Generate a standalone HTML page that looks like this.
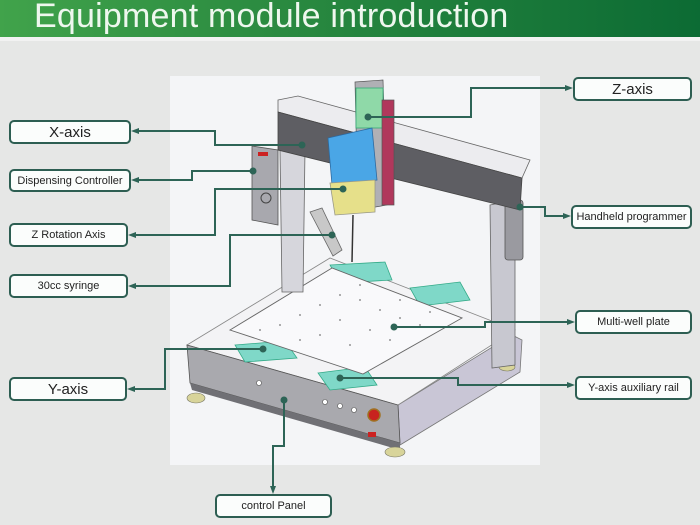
<!DOCTYPE html>
<html><head><meta charset="utf-8"><style>
body{margin:0;width:700px;height:525px;overflow:hidden;background:#e6e7e6;font-family:"Liberation Sans",sans-serif;position:relative}
.hdr{position:absolute;left:0;top:0;width:700px;height:37px;background:linear-gradient(90deg,#41a34b 0%,#2a8a40 40%,#0c6b34 100%)}
.hdr span{position:absolute;left:34px;top:-3px;font-size:34px;color:#eef7ee;letter-spacing:0.2px}
.shadow{position:absolute;left:0;top:37px;width:700px;height:4px;background:#f2f2f2}
.b{position:absolute;border:2px solid #2d5e52;border-radius:5px;background:#fbfdfc;color:#222;text-align:center;box-sizing:border-box;display:flex;align-items:center;justify-content:center;white-space:nowrap}
svg{position:absolute;left:0;top:0}
</style></head><body>
<div class="hdr"><span>Equipment module introduction</span></div>
<div class="shadow"></div>
<svg width="700" height="525">
<rect x="170" y="76" width="370" height="389" fill="#f4f5f7"/>
<polygon points="398,405 512,335 522,340 520,372 400,445" fill="#c9c6d6" stroke="#777" stroke-width="0.8"/>
<polygon points="187,345 330,258 515,330 398,405" fill="#f3f3f5" stroke="#888" stroke-width="0.8"/>
<polygon points="187,345 398,405 400,443 190,383" fill="#a9a9ae" stroke="#555" stroke-width="0.8"/>
<polygon points="190,383 400,443 400,450 192,390" fill="#707075"/>
<circle cx="259" cy="383" r="2.5" fill="#fff" stroke="#555" stroke-width="0.6"/>
<circle cx="325" cy="402" r="2.5" fill="#fff" stroke="#555" stroke-width="0.6"/>
<circle cx="340" cy="406" r="2.5" fill="#fff" stroke="#555" stroke-width="0.6"/>
<circle cx="354" cy="410" r="2.5" fill="#fff" stroke="#555" stroke-width="0.6"/>
<circle cx="374" cy="415" r="6" fill="#c8231f" stroke="#a07020" stroke-width="1.5"/>
<rect x="368" y="432" width="8" height="5" fill="#c22"/>
<ellipse cx="196" cy="398" rx="9" ry="5" fill="#d8d49a" stroke="#776" stroke-width="0.6"/>
<ellipse cx="395" cy="452" rx="10" ry="5" fill="#d8d49a" stroke="#776" stroke-width="0.6"/>
<ellipse cx="507" cy="367" rx="8" ry="4" fill="#d8d49a" stroke="#776" stroke-width="0.6"/>
<polygon points="330,265 385,262 392,280 340,283" fill="#7fd8c8" stroke="#3a8" stroke-width="0.8"/>
<polygon points="410,288 460,282 470,300 420,306" fill="#7fd8c8" stroke="#3a8" stroke-width="0.8"/>
<polygon points="235,345 285,341 297,358 245,362" fill="#7fd8c8" stroke="#3a8" stroke-width="0.8"/>
<polygon points="318,373 365,367 377,385 330,390" fill="#7fd8c8" stroke="#3a8" stroke-width="0.8"/>
<polygon points="230,330 332,268 462,318 363,374" fill="#f9f9fb" stroke="#666" stroke-width="0.9"/>
<g fill="#777">
<circle cx="300" cy="315" r="0.9"/><circle cx="320" cy="305" r="0.9"/><circle cx="340" cy="295" r="0.9"/><circle cx="360" cy="300" r="0.9"/><circle cx="380" cy="310" r="0.9"/><circle cx="400" cy="318" r="0.9"/><circle cx="420" cy="325" r="0.9"/><circle cx="280" cy="325" r="0.9"/><circle cx="320" cy="335" r="0.9"/><circle cx="350" cy="345" r="0.9"/><circle cx="370" cy="330" r="0.9"/><circle cx="390" cy="340" r="0.9"/><circle cx="340" cy="320" r="0.9"/><circle cx="300" cy="340" r="0.9"/><circle cx="360" cy="285" r="0.9"/><circle cx="400" cy="300" r="0.9"/><circle cx="430" cy="312" r="0.9"/><circle cx="260" cy="330" r="0.9"/>
</g>
<polygon points="280,150 305,150 303,292 282,292" fill="#d6d6dc" stroke="#666" stroke-width="0.8"/>
<polygon points="252,146 278,150 278,225 252,220" fill="#a8a8ae" stroke="#555" stroke-width="0.8"/>
<rect x="258" y="152" width="10" height="4" fill="#c22"/>
<circle cx="266" cy="198" r="5" fill="none" stroke="#444"/>
<polygon points="490,205 515,200 515,365 492,368" fill="#c8c8d0" stroke="#666" stroke-width="0.8"/>
<rect x="505" y="200" width="18" height="60" rx="3" fill="#9a9aa0" stroke="#555" stroke-width="0.8"/>
<polygon points="278,100 298,96 530,160 522,178 278,112" fill="#ececef" stroke="#666" stroke-width="0.8"/>
<polygon points="278,112 522,178 520,210 278,150" fill="#5e5e63" stroke="#444" stroke-width="0.8"/>
<polygon points="355,82 383,80 387,205 358,210" fill="#b0b0b5" stroke="#555" stroke-width="0.7"/>
<rect x="356" y="88" width="27" height="40" fill="#8fd9a8" stroke="#3a7" stroke-width="0.8"/>
<rect x="382" y="100" width="12" height="105" fill="#b0385c" stroke="#555" stroke-width="0.7"/>
<polygon points="328,138 372,128 377,180 332,185" fill="#4aa6e6" stroke="#2d6aa0" stroke-width="0.8"/>
<polygon points="330,183 375,180 375,212 335,215" fill="#e6e08a" stroke="#998" stroke-width="0.8"/>
<line x1="353" y1="215" x2="352" y2="262" stroke="#333" stroke-width="1.5"/>
<polygon points="310,212 322,208 342,250 333,256" fill="#c8c8c8" stroke="#666" stroke-width="0.8"/>
<g stroke="#2d6456" stroke-width="2" fill="none">
<polyline points="137,131 215,131 215,145 302,145"/>
<polyline points="137,180 192,180 192,171 253,171"/>
<polyline points="134,235 215,235 215,189 343,189"/>
<polyline points="134,286 230,286 230,235 332,235"/>
<polyline points="567,88 471,88 471,117 368,117"/>
<polyline points="565,216 545,216 545,207 520,207"/>
<polyline points="569,322 485,322 485,327 394,327"/>
<polyline points="569,385 458,385 458,378 340,378"/>
<polyline points="133,389 165,389 165,349 263,349"/>
<polyline points="284,400 284,446 273,446 273,488"/>
</g>
<g fill="#2d6456">
<polygon points="131,131 139,128 139,134"/><polygon points="131,180 139,177 139,183"/>
<polygon points="128,235 136,232 136,238"/><polygon points="128,286 136,283 136,289"/>
<polygon points="573,88 565,85 565,91"/><polygon points="571,216 563,213 563,219"/>
<polygon points="575,322 567,319 567,325"/><polygon points="575,385 567,382 567,388"/>
<polygon points="127,389 135,386 135,392"/><polygon points="273,494 270,486 276,486"/>
<circle cx="302" cy="145" r="3.5"/><circle cx="253" cy="171" r="3.5"/><circle cx="343" cy="189" r="3.5"/><circle cx="332" cy="235" r="3.5"/><circle cx="368" cy="117" r="3.5"/><circle cx="520" cy="207" r="3.5"/><circle cx="394" cy="327" r="3.5"/><circle cx="340" cy="378" r="3.5"/><circle cx="263" cy="349" r="3.5"/><circle cx="284" cy="400" r="3.5"/>
</g>
</svg>
<div class="b" style="left:9px;top:120px;width:122px;height:24px;font-size:15px">X-axis</div>
<div class="b" style="left:9px;top:169px;width:122px;height:23px;font-size:11px">Dispensing Controller</div>
<div class="b" style="left:9px;top:223px;width:119px;height:24px;font-size:11px">Z Rotation Axis</div>
<div class="b" style="left:9px;top:274px;width:119px;height:24px;font-size:11px">30cc syringe</div>
<div class="b" style="left:9px;top:377px;width:118px;height:24px;font-size:15px">Y-axis</div>
<div class="b" style="left:215px;top:494px;width:117px;height:24px;font-size:11px">control Panel</div>
<div class="b" style="left:573px;top:77px;width:119px;height:24px;font-size:15px">Z-axis</div>
<div class="b" style="left:571px;top:205px;width:121px;height:24px;font-size:11px">Handheld programmer</div>
<div class="b" style="left:575px;top:310px;width:117px;height:24px;font-size:11px">Multi-well plate</div>
<div class="b" style="left:575px;top:376px;width:117px;height:24px;font-size:11px">Y-axis auxiliary rail</div>
</body></html>
